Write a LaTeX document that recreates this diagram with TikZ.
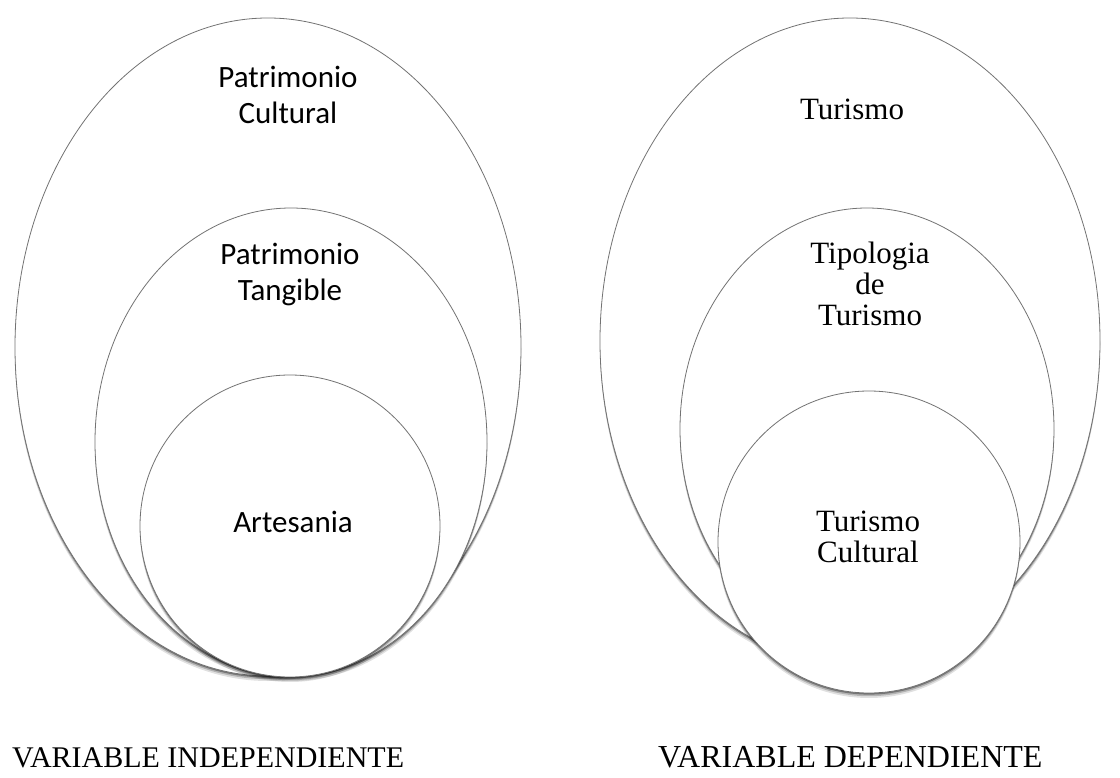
\documentclass[tikz,border=0pt]{standalone}
\usepackage{fontspec}
\setmainfont{Liberation Serif}
\newfontfamily\calibri{Carlito}
\usetikzlibrary{shadows}

\tikzset{
  ring/.style={draw=black!55, line width=0.8pt, fill=white,
    drop shadow={shadow xshift=0pt, shadow yshift=-5pt, opacity=.12, fill=black},
    drop shadow={shadow xshift=0pt, shadow yshift=-3.2pt, opacity=.2, fill=black},
    drop shadow={shadow xshift=0pt, shadow yshift=-1.6pt, opacity=.35, fill=black}},
  sanslbl/.style={font=\calibri\fontsize{31}{36}\selectfont, align=center, inner sep=0pt},
  seriflbl/.style={font=\fontsize{31}{31}\selectfont, align=center, inner sep=0pt},
  varlbl/.style={font=\fontsize{30}{36}\selectfont, inner sep=0pt, anchor=base west}
}

\begin{document}
\begin{tikzpicture}[x=1pt,y=-1pt]
            \useasboundingbox (0,0) rectangle (1120,778);

            %independiente
			\draw[ring] (268,347) ellipse [x radius=253, y radius=329];

			\draw[ring] (291,442) ellipse [x radius=196, y radius=234];

			\draw[ring] (290,526) ellipse [x radius=150, y radius=151];

			\node[sanslbl] (patcult) at (288,95) {Patrimonio\\Cultural};

			\node[sanslbl] (pattang) at (290,275) {Patrimonio\\Tangible};

			\node[sanslbl] (artes) at (293,522) {Artesania};

            %dependiente
			\draw[ring] (850,341) ellipse [x radius=250, y radius=323];

			\draw[ring] (867,429) ellipse [x radius=187, y radius=221];

			\draw[ring] (869,542) ellipse [x radius=151, y radius=151];

			\node[seriflbl] (tur) at (852,109) {Turismo};

			\node[seriflbl] (tipo) at (870,284) {Tipologia\\de\\Turismo};

			\node[seriflbl] (turcult) at (868,537) {Turismo\\Cultural};

            %variables
			\node[varlbl] (varind) at (12,767) {VARIABLE INDEPENDIENTE};

			\node[varlbl, font=\fontsize{32}{36}\selectfont] (vardep) at (658,767) {VARIABLE DEPENDIENTE};
        \end{tikzpicture}
\end{document}
